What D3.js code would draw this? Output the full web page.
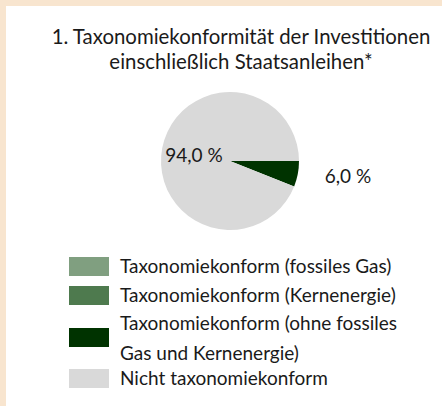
<!DOCTYPE html>
<html><head><meta charset="utf-8">
<script src="https://cdn.jsdelivr.net/npm/d3@7"></script>
<style>
html,body{margin:0;padding:0;background:#f8e5cf;}
svg{display:block;}
text{font-family:Lato, "Open Sans", sans-serif;fill:#1a1a1a;}
</style></head><body>
<svg id="c" width="442" height="406"></svg>
<script>
const titleLines = ["1. Taxonomiekonformität der Investitionen", "einschließlich Staatsanleihen*"];
const categories = ["Taxonomiekonform (fossiles Gas)", "Taxonomiekonform (Kernenergie)", "Taxonomiekonform (ohne fossiles Gas und Kernenergie)", "Nicht taxonomiekonform"];
const legendLines = [["Taxonomiekonform (fossiles Gas)"], ["Taxonomiekonform (Kernenergie)"], ["Taxonomiekonform (ohne fossiles", "Gas und Kernenergie)"], ["Nicht taxonomiekonform"]];
const values = [0, 0, 6.0, 94.0];
const colors = ["#809f80", "#4e7a4e", "#003300", "#d9d9d9"];

const svg = d3.select("#c");
svg.append("rect").attr("x",6).attr("y",6).attr("width",436).attr("height",400).attr("fill","#fff");

svg.append("g").selectAll("text").data(titleLines).join("text")
  .attr("x",241).attr("y",(d,i)=>44+i*25).attr("text-anchor","middle")
  .style("font-size","20.4px").text(d=>d);

const cx=230, cy=161, r=69;
const pie = d3.pie().sort(null).startAngle(Math.PI/2).endAngle(Math.PI/2+2*Math.PI).value(d=>d);
const arcs = pie(values);
const arc = d3.arc().innerRadius(0).outerRadius(r);
const g = svg.append("g").attr("transform",`translate(${cx},${cy})`);
g.selectAll("path").data(arcs).join("path").attr("d",arc).attr("fill",(d,i)=>colors[i]);

const fmt = v => d3.format(".1f")(v).replace(".",",")+" %";
const labelPos = [null,null,[118,22],[-36,1]];
g.selectAll("text.lbl").data(arcs.filter((d,i)=>labelPos[i])).join("text").attr("class","lbl")
  .attr("x",d=>labelPos[d.index][0]).attr("y",d=>labelPos[d.index][1])
  .attr("text-anchor","middle").style("font-size","19px").text(d=>fmt(d.data));

const rowY = [257,286,328,369];
const lg = svg.append("g");
categories.forEach((c,i)=>{
  lg.append("rect").attr("x",69).attr("y",rowY[i]).attr("width",40).attr("height",19).attr("fill",colors[i]);
  legendLines[i].forEach((t,j)=>{
    lg.append("text").attr("x",120).attr("y",rowY[i]+16+j*30 - (legendLines[i].length>1?14:0)).style("font-size","19px").text(t);
  });
});
</script></body></html>
